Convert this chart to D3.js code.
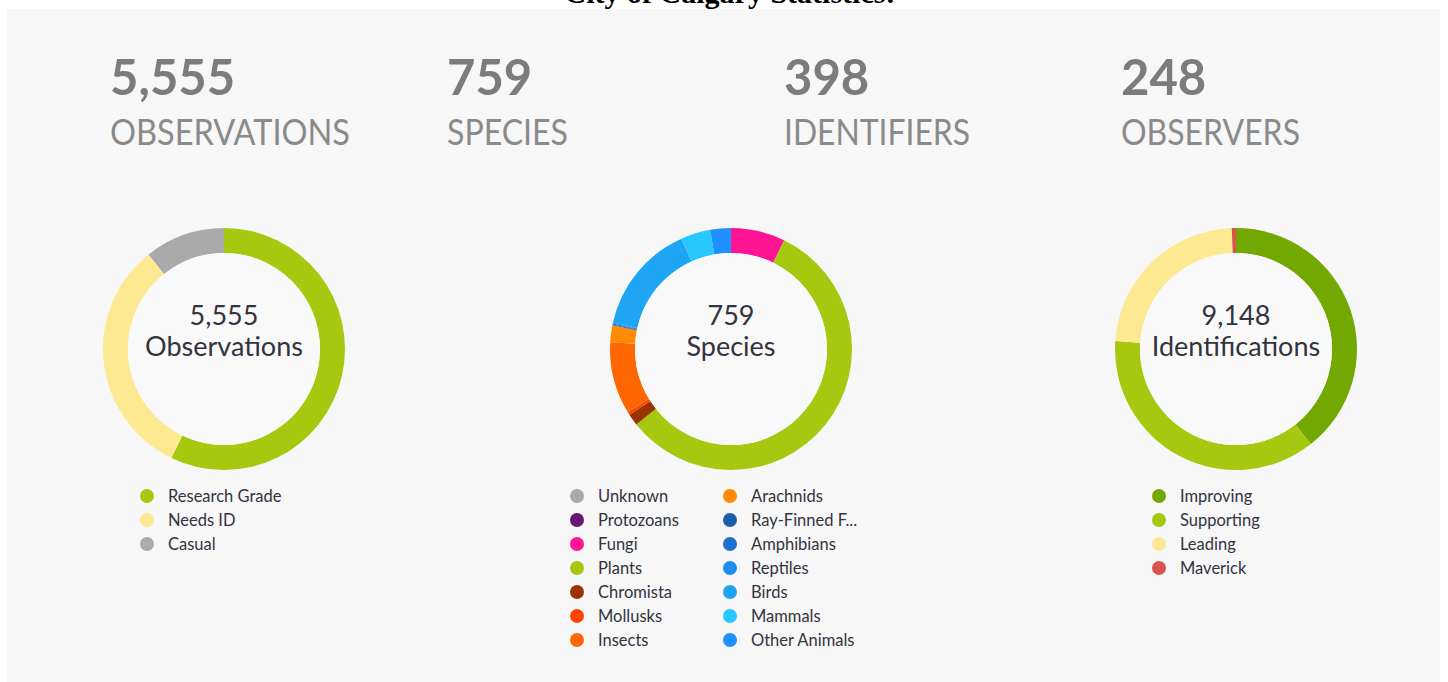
<!DOCTYPE html>
<html>
<head>
<meta charset="utf-8">
<script src="https://cdn.jsdelivr.net/npm/d3@7"></script>
<style>
  html, body { margin: 0; padding: 0; background: #ffffff; }
  svg { display: block; }
</style>
</head>
<body>
<svg id="chart" width="1448" height="682"></svg>
<script>
// ---------- DATA ----------
const title = "City of Calgary Statistics:";

const statValues = ["5,555", "759", "398", "248"];
const statLabels = ["OBSERVATIONS", "SPECIES", "IDENTIFIERS", "OBSERVERS"];

const obsCategories = ["Research Grade", "Needs ID", "Casual"];
const obsValues = [3175, 1785, 595];
const obsColors = ["#a6c90f", "#fde992", "#aaaaaa"];

const speciesCategories = ["Unknown", "Protozoans", "Fungi", "Plants", "Chromista", "Mollusks", "Insects",
  "Arachnids", "Ray-Finned F...", "Amphibians", "Reptiles", "Birds", "Mammals", "Other Animals"];
const speciesValues = [0, 0, 55, 433, 12, 3, 73, 17, 1, 1, 1, 112, 30, 21];
const speciesColors = ["#aaaaaa", "#691776", "#ff1493", "#a6c90f", "#993300", "#ff4500", "#ff6600",
  "#ff8c00", "#1d5ea8", "#1e6fd0", "#1e8cf0", "#1ea6f5", "#28c8ff", "#1e90ff"];

const idCategories = ["Improving", "Supporting", "Leading", "Maverick"];
const idValues = [3603, 3354, 2140, 51];
const idColors = ["#72a800", "#a6c90f", "#fde992", "#d9534f"];

const centerNumbers = ["5,555", "759", "9,148"];
const centerLabels = ["Observations", "Species", "Identifications"];

// ---------- LAYOUT ----------
const svg = d3.select("#chart");

svg.append("rect").attr("x", 7).attr("y", 9).attr("width", 1433).attr("height", 673)
  .attr("fill", "#f7f7f7");

svg.append("text").text(title)
  .attr("x", 730).attr("y", 3)
  .attr("text-anchor", "middle")
  .attr("font-family", "'Liberation Serif', 'Times New Roman', serif")
  .attr("font-weight", "bold").attr("font-size", 30).attr("fill", "#000");

// Header stats
const statX = d3.scalePoint().domain(d3.range(4)).range([110, 1121]);
const labelWidths = [240, 121, 186, 179];
statValues.forEach((v, i) => {
  svg.append("text").text(v)
    .attr("x", statX(i)).attr("y", 95)
    .attr("font-family", "Lato, sans-serif").attr("font-weight", 700)
    .attr("font-size", 49).attr("fill", "#7c7c7c");
  svg.append("text").text(statLabels[i])
    .attr("x", statX(i)).attr("y", 145)
    .attr("font-family", "Lato, sans-serif").attr("font-weight", 400)
    .attr("font-size", 37).attr("fill", "#8a8a8a")
    .attr("textLength", labelWidths[i]).attr("lengthAdjust", "spacingAndGlyphs");
});

// Donuts
const centers = [224, 731, 1236];
const cy = 349;
const outerR = 121, innerR = 96;
const arc = d3.arc().innerRadius(innerR).outerRadius(outerR);
const pie = d3.pie().sort(null).value(d => d.value);

const datasets = [
  { cats: obsCategories, vals: obsValues, cols: obsColors },
  { cats: speciesCategories, vals: speciesValues, cols: speciesColors },
  { cats: idCategories, vals: idValues, cols: idColors }
];

datasets.forEach((ds, k) => {
  const data = ds.cats.map((c, i) => ({ cat: c, value: ds.vals[i] }));
  const color = d3.scaleOrdinal().domain(ds.cats).range(ds.cols);
  const g = svg.append("g").attr("transform", `translate(${centers[k]},${cy})`);
  g.selectAll("path").data(pie(data)).join("path")
    .attr("d", arc).attr("fill", d => color(d.data.cat));
  g.append("circle").attr("r", innerR).attr("fill", "#f9f9f9");
  g.append("text").text(centerNumbers[k])
    .attr("y", -24).attr("text-anchor", "middle")
    .attr("font-family", "Lato, sans-serif").attr("font-size", 27).attr("fill", "#333340");
  g.append("text").text(centerLabels[k])
    .attr("y", 7).attr("text-anchor", "middle")
    .attr("font-family", "Lato, sans-serif").attr("font-size", 27).attr("fill", "#333340");
});

// Legends
const rowY = d3.scaleLinear().domain([0, 1]).range([496, 520]);
function legend(cats, cols, x0, perCol, colGap) {
  cats.forEach((c, i) => {
    const col = Math.floor(i / perCol), row = i % perCol;
    const x = x0 + col * colGap, y = rowY(row);
    svg.append("circle").attr("cx", x).attr("cy", y).attr("r", 7).attr("fill", cols[i]);
    svg.append("text").text(c).attr("x", x + 21).attr("y", y + 5.5)
      .attr("font-family", "Lato, sans-serif").attr("font-size", 16.5).attr("fill", "#333340");
  });
}
legend(obsCategories, obsColors, 147, 10, 0);
legend(speciesCategories, speciesColors, 577, 7, 153);
legend(idCategories, idColors, 1159, 10, 0);
</script>
</body>
</html>
